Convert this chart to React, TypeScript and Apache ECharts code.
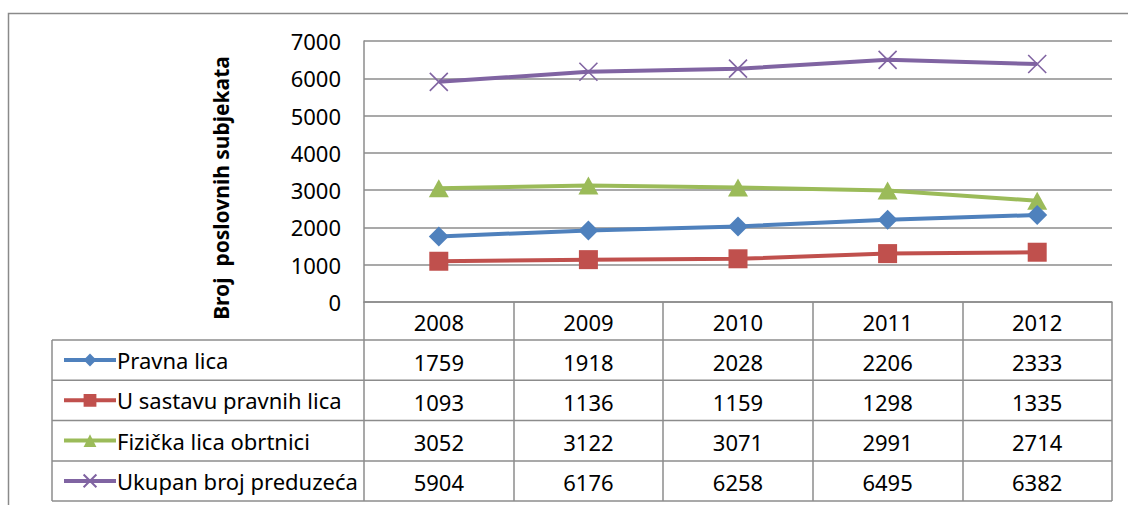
import React, { useEffect, useRef } from "react";
import * as echarts from "echarts";

const years = ["2008", "2009", "2010", "2011", "2012"];
const seriesNames = ["Pravna lica", "U sastavu pravnih lica", "Fizička lica obrtnici", "Ukupan broj preduzeća"];
const pravnaLica = [1759, 1918, 2028, 2206, 2333];
const uSastavu = [1093, 1136, 1159, 1298, 1335];
const fizicka = [3052, 3122, 3071, 2991, 2714];
const ukupan = [5904, 6176, 6258, 6495, 6382];
const yTicks = { min: 0, max: 7000, interval: 1000 };
const yTitle = "Broj  poslovnih subjekata";

const allSeries = [pravnaLica, uSastavu, fizicka, ukupan];
const colors = ["#4F81BD", "#C0504D", "#9BBB59", "#8064A2"];
const symbols = ["diamond", "rect", "triangle", "path://M0,0L10,10M10,0L0,10"];
const symbolSizes = [20, 19, [20, 18], 18];

const FONT = "Noto Sans";
const GRID_L = 364, GRID_T = 41, GRID_R = 1112, GRID_B = 302;
const TABLE_L = 52;
const ROW_LINES = [340, 380.3, 420.6, 460.9, 501];
const GRID_COLOR = "#8c8c8c";

export default function App() {
  const ref = useRef<HTMLDivElement>(null);
  useEffect(() => {
    if (!ref.current) return;
    const chart = echarts.init(ref.current, null, { renderer: "svg" });
    const labels = years.map((y, i) => [y, ...allSeries.map((s) => String(s[i]))].join("\n"));
    const graphics: any[] = [
      {
        type: "rect",
        shape: { x: 8.5, y: 13.5, width: 1140, height: 520 },
        style: { fill: "none", stroke: "#8a8a8a", lineWidth: 1.5 },
        silent: true,
      },
      ...ROW_LINES.map((y) => ({
        type: "line",
        shape: { x1: TABLE_L, y1: y, x2: GRID_R, y2: y },
        style: { stroke: GRID_COLOR, lineWidth: 1.5 },
        silent: true,
      })),
      {
        type: "line",
        shape: { x1: TABLE_L, y1: ROW_LINES[0], x2: TABLE_L, y2: ROW_LINES[ROW_LINES.length - 1] },
        style: { stroke: GRID_COLOR, lineWidth: 1.5 },
        silent: true,
      },
      {
        type: "text",
        x: 221,
        y: 188,
        rotation: Math.PI / 2,
        style: {
          text: yTitle,
          font: `bold 21px '${FONT}'`,
          fill: "#000",
          align: "center",
          verticalAlign: "middle",
        },
      },
    ];
    chart.setOption({
      animation: false,
      backgroundColor: "#fff",
      grid: { left: GRID_L, top: GRID_T, right: 1128 - GRID_R, bottom: 505 - GRID_B, containLabel: false },
      legend: {
        orient: "vertical",
        left: 57,
        top: 343,
        itemWidth: 52,
        itemHeight: 16,
        itemGap: 16.3,
        lineStyle: { width: 4 },
        textStyle: { fontFamily: FONT, fontSize: 22, color: "#000", lineHeight: 24, padding: [0, 0, 0, -4] },
        data: seriesNames,
      },
      xAxis: {
        type: "category",
        data: years,
        boundaryGap: true,
        axisLine: { lineStyle: { color: GRID_COLOR, width: 1.5 } },
        axisTick: { show: true, length: 199, lineStyle: { color: GRID_COLOR, width: 1.5 } },
        axisLabel: {
          interval: 0,
          margin: 0,
          formatter: (_v: string, i: number) => labels[i],
          fontFamily: FONT,
          fontSize: 22,
          color: "#000",
          lineHeight: 40,
        },
      },
      yAxis: {
        type: "value",
        min: yTicks.min,
        max: yTicks.max,
        interval: yTicks.interval,
        axisLine: { show: true, lineStyle: { color: GRID_COLOR, width: 1.5 } },
        axisTick: { show: false },
        splitLine: { lineStyle: { color: GRID_COLOR, width: 1.5 } },
        axisLabel: { margin: 23, fontFamily: FONT, fontSize: 22, color: "#000", formatter: (v: number) => String(v) },
      },
      series: allSeries.map((d, i) => ({
        name: seriesNames[i],
        type: "line",
        data: d,
        symbol: symbols[i],
        symbolSize: symbolSizes[i],
        z: 10 - i,
        lineStyle: { color: colors[i], width: 4 },
        itemStyle:
          i === 3
            ? { color: "rgba(0,0,0,0)", borderColor: colors[i], borderWidth: 1.6 }
            : { color: colors[i], borderColor: colors[i], borderWidth: 0 },
      })),
      graphic: graphics,
    });
    return () => chart.dispose();
  }, []);
  return (
    <div
      ref={ref}
      style={{ position: "fixed", left: 0, top: 0, width: 1128, height: 505, background: "#fff" }}
    />
  );
}
